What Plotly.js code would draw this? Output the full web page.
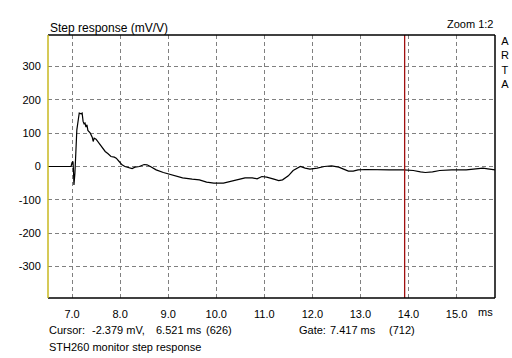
<!DOCTYPE html>
<html>
<head>
<meta charset="utf-8">
<script src="https://cdn.plot.ly/plotly-3.0.1.min.js"></script>
<style>html,body{margin:0;padding:0;background:#fff;} #chart{width:512px;height:358px;}</style>
</head>
<body>
<div id="chart"></div>
<script>
// Step response data (time in ms, value in mV/V)
var timeMs = [6.50, 6.98, 7.00, 7.02, 7.03, 7.04, 7.06, 7.08, 7.10, 7.13, 7.15, 7.19, 7.21, 7.23, 7.25, 7.27, 7.29, 7.31, 7.33, 7.38, 7.42, 7.44, 7.46, 7.50, 7.56, 7.63, 7.69, 7.75, 7.81, 7.88, 7.92, 7.98, 8.04, 8.10, 8.19, 8.25, 8.31, 8.40, 8.50, 8.56, 8.63, 8.75, 8.90, 9.00, 9.15, 9.30, 9.50, 9.65, 9.80, 9.95, 10.15, 10.30, 10.45, 10.60, 10.75, 10.85, 10.95, 11.05, 11.20, 11.30, 11.38, 11.50, 11.60, 11.75, 11.85, 11.95, 12.10, 12.25, 12.40, 12.55, 12.65, 12.75, 12.85, 12.95, 13.10, 13.30, 13.60, 13.90, 14.10, 14.25, 14.35, 14.50, 14.65, 14.90, 15.20, 15.40, 15.55, 15.65, 15.80];
var stepMv = [0, 0, 12, 15, -10, -55, -20, 60, 110, 140, 160, 158, 160, 135, 128, 130, 118, 125, 108, 100, 88, 75, 85, 82, 70, 55, 45, 38, 30, 28, 25, 15, 5, 0, -3, -6, -2, 0, 6, 5, 0, -10, -18, -22, -28, -34, -38, -40, -47, -50, -50, -45, -38, -34, -34, -37, -30, -32, -38, -42, -40, -28, -12, 0, -5, -8, -5, 0, 2, -2, -8, -14, -14, -10, -9, -10, -10, -10, -12, -16, -18, -16, -12, -10, -10, -7, -5, -7, -10];

var xTickVals = [7, 8, 9, 10, 11, 12, 13, 14, 15];
var xTickText = ["7.0", "8.0", "9.0", "10.0", "11.0", "12.0", "13.0", "14.0", "15.0"];
var yTickVals = [-300, -200, -100, 0, 100, 200, 300];
var yTickText = ["-300", "-200", "-100", "0", "100", "200", "300"];
var xRange = [6.5, 15.8];
var yRange = [-394, 394];
var cursorX = [13.92];

// status-line text pieces
var cursorParts = ["Cursor:", "-2.379 mV,", "6.521 ms", "(626)"];
var gateParts = ["Gate:", "7.417 ms", "(712)"];
var footer = "STH260 monitor step response";

var font = "Liberation Sans, Arial, sans-serif";
var plotLeft = 48, plotW = 447;
function px(p) { return (p - plotLeft) / plotW; }

var traces = [{
  x: timeMs, y: stepMv, type: "scatter", mode: "lines",
  line: {color: "#000000", width: 1.2, shape: "linear"},
  hoverinfo: "skip"
}];

var shapes = [
  {type: "line", xref: "x", yref: "paper", x0: cursorX[0], x1: cursorX[0], y0: 0, y1: 1, line: {color: "#a01010", width: 1.3}},
  {type: "line", xref: "paper", yref: "paper", x0: 0, x1: 1, y0: 1, y1: 1, line: {color: "#000", width: 1.5}},
  {type: "line", xref: "paper", yref: "paper", x0: 0, x1: 1, y0: 0, y1: 0, line: {color: "#000", width: 1.5}},
  {type: "line", xref: "paper", yref: "paper", x0: 1, x1: 1, y0: 0, y1: 1, line: {color: "#000", width: 1.5}},
  {type: "line", xref: "paper", yref: "paper", x0: 0, x1: 0, y0: 0, y1: 1, line: {color: "#c8b820", width: 1.5}}
];

function note(text, xp, yshift) {
  return {text: text, xref: "paper", yref: "paper", x: px(xp), y: 0, xanchor: "left", yanchor: "top", yshift: yshift, xshift: -1, showarrow: false, font: {family: font, size: 11, color: "#000"}};
}

var cursorPos = [48, 91, 155, 205];
var gatePos = [298, 329, 388];

var annotations = [
  {text: "Zoom 1:2", xref: "paper", yref: "paper", x: 1, y: 1, xanchor: "right", yanchor: "bottom", yshift: 3, showarrow: false, font: {family: font, size: 11, color: "#000"}},
  {text: "A<br>R<br>T<br>A", xref: "paper", yref: "paper", x: 1, y: 1, xanchor: "left", yanchor: "top", xshift: 4, yshift: 2, showarrow: false, align: "center", font: {family: font, size: 11, color: "#000"}},
  {text: "ms", xref: "paper", yref: "paper", x: 1, y: 0, xanchor: "right", yanchor: "top", yshift: -6, showarrow: false, font: {family: font, size: 11, color: "#000"}},
  note(footer, 48, -41)
];
cursorParts.forEach(function (t, i) { annotations.push(note(t, cursorPos[i], -24)); });
gateParts.forEach(function (t, i) { annotations.push(note(t, gatePos[i], -24)); });

var layout = {
  width: 512, height: 358,
  margin: {l: 48, r: 17, t: 35, b: 60, pad: 0},
  paper_bgcolor: "#ffffff", plot_bgcolor: "#ffffff",
  showlegend: false,
  title: {text: "Step response (mV/V)", x: 0, xref: "paper", xanchor: "left", y: 1, yref: "paper", yanchor: "bottom", pad: {b: 3, l: 2}, font: {family: font, size: 12, color: "#000"}},
  xaxis: {
    range: xRange, tickmode: "array", tickvals: xTickVals, ticktext: xTickText,
    showgrid: true, gridcolor: "#808080", griddash: "4px,3px", gridwidth: 1,
    zeroline: false, showline: false, ticks: "outside", ticklen: 6, tickcolor: "rgba(0,0,0,0)",
    tickfont: {family: font, size: 11, color: "#000"}, fixedrange: true
  },
  yaxis: {
    range: yRange, tickmode: "array", tickvals: yTickVals, ticktext: yTickText,
    showgrid: true, gridcolor: "#808080", griddash: "4px,3px", gridwidth: 1,
    zeroline: false, showline: false, ticks: "outside", ticklen: 4, tickcolor: "rgba(0,0,0,0)",
    tickfont: {family: font, size: 11, color: "#000"}, fixedrange: true
  },
  shapes: shapes,
  annotations: annotations
};

Plotly.newPlot("chart", traces, layout, {displayModeBar: false, staticPlot: true});
</script>
</body>
</html>
